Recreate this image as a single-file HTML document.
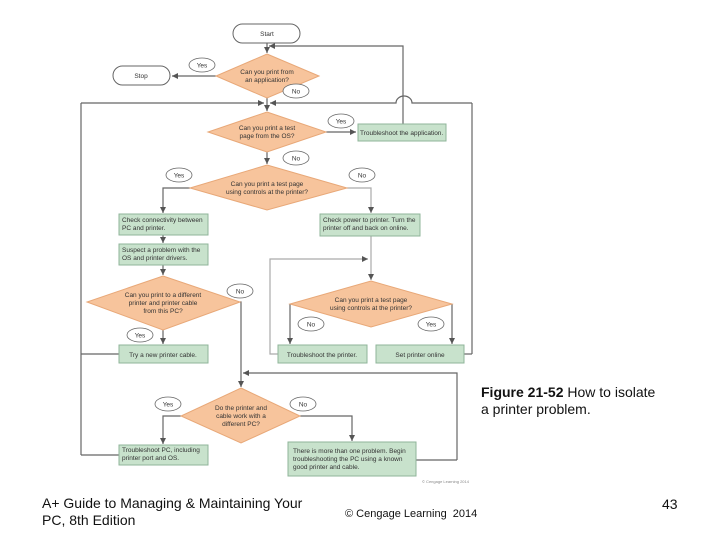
<!DOCTYPE html>
<html><head><meta charset="utf-8"><style>
html,body{margin:0;padding:0;background:#fff;width:720px;height:540px;overflow:hidden}
svg{position:absolute;left:0;top:0}
.t{position:absolute;font-family:"Liberation Sans",sans-serif;color:#111}
</style></head><body>
<svg width="720" height="540" xmlns="http://www.w3.org/2000/svg" font-family="Liberation Sans, sans-serif">
<defs><marker id="a" markerWidth="6" markerHeight="6" refX="5" refY="3" orient="auto"><path d="M0,0.5 L5,3 L0,5.5z" fill="#555"/></marker></defs>
<g stroke="#666" stroke-width="1.2" fill="none">
<line x1="267" y1="43" x2="267" y2="53" marker-end="url(#a)"/>
<polyline points="403,124 403,46 269,46" marker-end="url(#a)"/>
<line x1="216" y1="76" x2="172" y2="76" marker-end="url(#a)"/>
<line x1="267" y1="98" x2="267" y2="111" marker-end="url(#a)"/>
<polyline points="81,103 264,103" marker-end="url(#a)"/>
<path d="M472,103 L412,103 A8,7 0 0 0 396,103 L270,103" marker-end="url(#a)"/>
<line x1="81" y1="103" x2="81" y2="455"/>
<line x1="472" y1="103" x2="472" y2="354"/>
<line x1="326" y1="132" x2="356" y2="132" marker-end="url(#a)"/>
<line x1="267" y1="152" x2="267" y2="164" marker-end="url(#a)"/>
<polyline points="190,188 163,188 163,213" marker-end="url(#a)"/>
<polyline points="347,188 371,188 371,213" marker-end="url(#a)" stroke="#aaa"/>
<line x1="163" y1="235" x2="163" y2="243" marker-end="url(#a)"/>
<line x1="163" y1="265" x2="163" y2="275" marker-end="url(#a)"/>
<line x1="163" y1="330" x2="163" y2="344" marker-end="url(#a)"/>
<line x1="119" y1="354" x2="81" y2="354"/>
<polyline points="240,302 241,302 241,387" marker-end="url(#a)"/>
<polyline points="457,460 457,373 243,373" marker-end="url(#a)"/>
<line x1="416" y1="460" x2="457" y2="460"/>
<line x1="371" y1="236" x2="371" y2="280" marker-end="url(#a)" stroke="#aaa"/>
<polyline points="278,354 270,354 270,259 368,259" marker-end="url(#a)" stroke="#aaa"/>
<polyline points="290,304 290,344" marker-end="url(#a)"/>
<polyline points="452,304 452,344" marker-end="url(#a)"/>
<line x1="464" y1="354" x2="472" y2="354"/>
<polyline points="181,416 163,416 163,444" marker-end="url(#a)"/>
<polyline points="300,416 352,416 352,441" marker-end="url(#a)"/>
<line x1="119" y1="455" x2="81" y2="455"/>
</g>
<g fill="#fff" stroke="#666" stroke-width="1">
<rect x="233" y="24" width="67" height="19" rx="9.5"/>
<rect x="113" y="66" width="57" height="19" rx="9.5"/>
</g>
<g fill="#f7c49c" stroke="#e8a878" stroke-width="1">
<polygon points="267,54 319,76 267,98 216,76"/>
<polygon points="267,112 326,132 267,152 208,132"/>
<polygon points="267,165 347,188 267,210 190,188"/>
<polygon points="163,276 240,302 163,330 87,302"/>
<polygon points="371,281 452,304 371,327 290,304"/>
<polygon points="241,388 300,416 241,443 181,416"/>
</g>
<g fill="#c8e2cc" stroke="#8fb49a" stroke-width="1">
<rect x="358" y="124" width="88" height="17"/>
<rect x="119" y="214" width="89" height="21"/>
<rect x="320" y="214" width="100" height="22"/>
<rect x="119" y="244" width="89" height="21"/>
<rect x="119" y="345" width="89" height="18"/>
<rect x="278" y="345" width="89" height="18"/>
<rect x="376" y="345" width="88" height="18"/>
<rect x="119" y="445" width="89" height="20"/>
<rect x="288" y="442" width="128" height="34"/>
</g>
<g fill="#fff" stroke="#666" stroke-width="0.8">
<ellipse cx="202" cy="65" rx="13" ry="7"/>
<ellipse cx="296" cy="91" rx="13" ry="7"/>
<ellipse cx="341" cy="121" rx="13" ry="7"/>
<ellipse cx="296" cy="158" rx="13" ry="7"/>
<ellipse cx="179" cy="175" rx="13" ry="7"/>
<ellipse cx="362" cy="175" rx="13" ry="7"/>
<ellipse cx="240" cy="291" rx="13" ry="7"/>
<ellipse cx="140" cy="335" rx="13" ry="7"/>
<ellipse cx="311" cy="324" rx="13" ry="7"/>
<ellipse cx="431" cy="324" rx="13" ry="7"/>
<ellipse cx="168" cy="404" rx="13" ry="7"/>
<ellipse cx="303" cy="404" rx="13" ry="7"/>
</g>
<g font-size="6.5" fill="#333" text-anchor="middle">
<text x="267" y="36">Start</text>
<text x="141" y="78">Stop</text>
<text x="202" y="67.5">Yes</text><text x="296" y="93.5">No</text>
<text x="341" y="123.5">Yes</text><text x="296" y="160.5">No</text>
<text x="179" y="177.5">Yes</text><text x="362" y="177.5">No</text>
<text x="240" y="293.5">No</text><text x="140" y="337.5">Yes</text>
<text x="311" y="326.5">No</text><text x="431" y="326.5">Yes</text>
<text x="168" y="406.5">Yes</text><text x="303" y="406.5">No</text>
<text x="267" y="74">Can you print from</text><text x="267" y="82">an application?</text>
<text x="267" y="130">Can you print a test</text><text x="267" y="138">page from the OS?</text>
<text x="267" y="186">Can you print a test page</text><text x="267" y="194">using controls at the printer?</text>
<text x="163" y="297">Can you print to a different</text><text x="163" y="305">printer and printer cable</text><text x="163" y="313">from this PC?</text>
<text x="371" y="302">Can you print a test page</text><text x="371" y="310">using controls at the printer?</text>
<text x="241" y="410">Do the printer and</text><text x="241" y="418">cable work with a</text><text x="241" y="426">different PC?</text>
<text x="163" y="357">Try a new printer cable.</text>
<text x="322" y="357">Troubleshoot the printer.</text>
<text x="420" y="357">Set printer online</text>
</g>
<g font-size="6.5" fill="#333">
<text x="360" y="135">Troubleshoot the application.</text>
<text x="122" y="222">Check connectivity between</text><text x="122" y="230">PC and printer.</text>
<text x="323" y="222">Check power to printer. Turn the</text><text x="323" y="230">printer off and back on online.</text>
<text x="122" y="252">Suspect a problem with the</text><text x="122" y="260">OS and printer drivers.</text>
<text x="122" y="452">Troubleshoot PC, including</text><text x="122" y="460">printer port and OS.</text>
<text x="293" y="453">There is more than one problem. Begin</text><text x="293" y="461">troubleshooting the PC using a known</text><text x="293" y="469">good printer and cable.</text>
<text x="422" y="483" font-size="4" fill="#888">© Cengage Learning 2014</text>
</g>
</svg>
<div class="t" style="left:481px;top:384px;font-size:14px;line-height:17px;width:185px"><b>Figure 21-52</b> How to isolate a printer problem.</div>
<div class="t" style="left:42px;top:495px;font-size:14px;line-height:17px;width:268px">A+ Guide to Managing &amp; Maintaining Your PC, 8th Edition</div>
<div class="t" style="left:345px;top:508px;font-size:11px">© Cengage Learning&nbsp; 2014</div>
<div class="t" style="left:662px;top:496px;font-size:14px">43</div>
</body></html>
